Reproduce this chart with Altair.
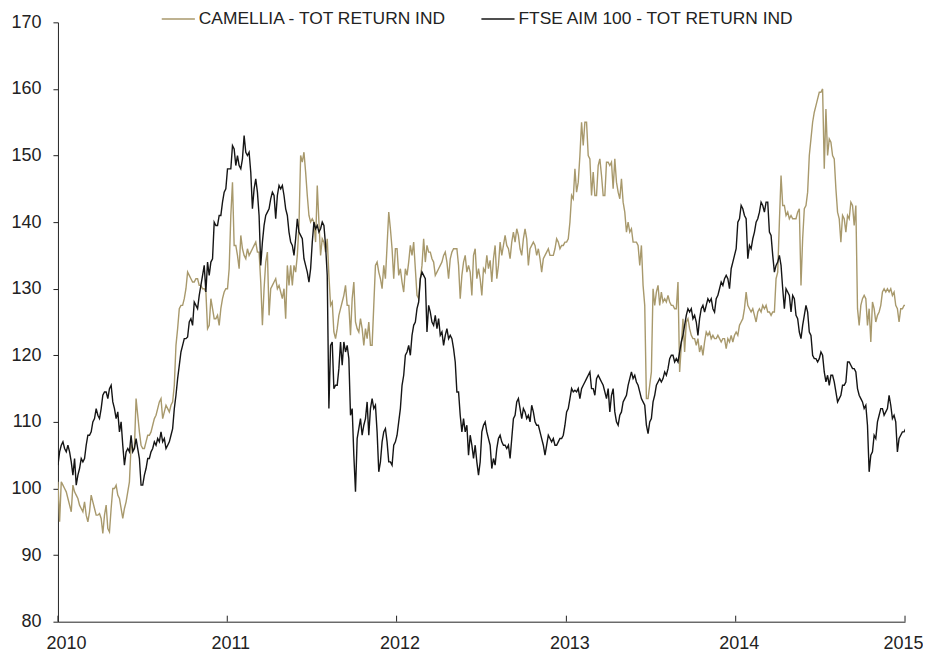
import altair as alt
import pandas as pd

series_names = ["CAMELLIA - TOT RETURN IND", "FTSE AIM 100 - TOT RETURN IND"]
series_colors = ["#A8996C", "#151515"]

# values, one every ~3.6 days from 2010-01-01
camellia = [
    101,95,101,100.5,100,99.5,98.5,97.5,96.5,100.5,99.5,99,98.5,97.5,97,96.5,98,96,95,96.5,99,98,97,96,96,96.25,95.5,93.25,96,97.5,94,93.5,97,100,100,100.5,99,98.5,97,95.5,97,98,99.5,101,106.5,106,106,113.5,111,108.5,106.5,106,106,107,108,108,108.5,109.5,110.5,111,112,113,113.5,110.5,111.5,112.5,112,111.5,112.5,113,115.5,121.5,124,127,127.5,127.5,128.5,130,132.5,132,
    131.5,131,131,131.5,131.5,130.5,130.5,130,130,129.5,124,124.5,128.5,127,125.5,125.5,126,124.5,127,128.5,129.5,130,130,133,141,146,136.5,136.5,135,133,138,136,135,134.5,136,135,135.5,136,136.5,137,135.5,135.5,131,124.5,130,134,135.5,126,130,130.5,131,131.5,130,130.5,129.5,128.5,130,125.5,133.5,130.5,133.5,130.5,133.5,132.5,135,139.5,150,149,150.5,147.5,144,141,140,140.5,140,137,145.5,140,135,137.5,137,135.5,137.5,132,
    127.5,128,123.5,122.5,124,126,127,128,129,130.5,127.5,127.5,123,128.5,131,125,124,123.5,125.5,124,121.5,124,122.5,125,121.5,121.5,127.5,133.5,134,132.5,131.5,130,133.5,131.5,136.5,141.5,139,136,131.5,136,136,132,133,131,129.5,133,132,134,136.5,135,137,133,129,128.5,131.5,133.5,137.5,134,136.5,135.5,135.5,134.5,134,132,132.5,133,133.5,134,135,135.5,134,131.5,134.5,135.5,136,136,136,133.5,128.5,132,134,135,132.5,133.5,
    132.5,129,135,136,131.5,133,131.5,129,133,132.5,135,133,134.25,131,134.5,136.5,131.5,133.5,137,135,136.5,138,136.5,136,134.5,137,138.5,137,139,138,136,135,137.5,139,137.5,133.5,136,136.5,137,136.5,135,136,134.5,132.5,134.5,135,135.5,136,135,135,135,136,137.5,137,136,136.5,136.5,137,137,137.5,140,144,143.5,148,144.5,146,150,155,151.5,155,155,150,149.5,144,147.5,144,144,148.5,149.5,147,144,144,149,149,
    148.5,149,145,149.5,146,144.5,143.5,146.5,143,141.5,138.5,140,138.5,139,137,137,137,136.5,133.5,136.5,130.5,127.5,113.5,113.5,115.5,117.5,130,127.5,129.5,130.5,127.5,129.5,128,128.5,128,129,128,127.5,127.5,127,127,131,117.5,121.5,125.5,120.5,125,125.5,124,123,122.5,122.5,121.5,122.5,120.5,121.5,120,122,123.5,123,123.5,122.5,123,122.5,122.5,123,122.5,122,122.5,122.5,121,122.5,122,123,122,123,123.5,123,124.5,125,125.5,127,129.5,127.5,
    127,126.5,127,126,125,126.5,127,126.5,127.5,127,127.5,126.5,126.5,126,126.5,126.5,131.5,132.5,140,147,142.5,142.5,141,141.5,140.5,141,140.5,140.5,140.5,141.5,142,130.5,137.5,142,142.5,144.5,150,152.5,155,156.5,157.5,158.5,159.5,159.5,160,148,157,150,152.5,152,150,149.5,145,141.5,140.5,137,141,140.5,138.5,141,140.5,143,142.5,139.5,142.5,127,124.5,127.5,128.5,129,128.5,124.5,127,122,128,127,125,126,126.5,127.5,129.5,130,129.5,130,129.5,130,129,129.5,127.5,127,125,127,127,127.5,127.5,
]

ftse = [
    103.5,105.5,106.5,107,106,105.5,106.5,105.5,104,102,104.5,100.5,102,103,104.5,104,104.5,106.5,108,108,108.5,110,110.5,112,111,110.5,112,114,114.5,114.5,113.5,115,115.5,113,112,110.5,111.5,108.5,110,106.5,103.5,105.5,106,105.5,108,105.5,106,107.5,106,104.5,100.5,100.5,102,103,104.5,104.5,105.5,106,107,106.5,107.5,107,108.5,107,107.5,106,106.5,107,108,109,112,114,116.5,118.5,120.5,121.5,122.5,122.5,122.75,125,
    125.5,124.5,128,127.5,127,129,130.5,132,133.5,129.5,134,132,134,134.5,140,139.5,139.5,141,141,143,144.5,145,148,148,148,151.5,151,148.5,150,148.5,148,149.5,153,150.5,150,150.5,147.5,142,145,146.5,144.5,141,133.5,137,139.5,141,141.5,142,143.5,144.5,144,140.5,144,145.5,145,145.5,144,142,141,138.5,137,136.5,135,137.5,140.5,138.5,138,137.5,134.5,133.5,132.5,131,133,137,140,139,139.5,138.5,139,140,139.5,136.5,132,112,
    121.5,122,115,115.5,115.5,118,122,118.5,122,120.5,121.5,119.5,111,112,105,99.5,107.5,109,110.5,108,109.5,110.5,113,108,112,113.5,112,112.5,108.5,102.5,104,107,108.5,109,107,104,104,103.5,106.5,107,108,110,112,115.5,117,120,120.5,121.5,120,123,124.5,125,127,128,131.5,132.5,132,131.5,123.5,127.5,126.5,125,124.5,126,124,125.5,123,123.5,121.5,123,124,122.5,123,122.5,121,119,114.5,114.5,111,108.5,110.5,108.5,109.5,105,
    108,106.5,104.5,106.5,104,102,104,108.5,109.5,110,108.5,107.5,106.5,103,104.5,103.5,106,107.5,108,107,106.5,106.5,106,106.5,104.5,107.5,110.5,111,113,113.5,112,110.5,112,111.5,110.5,111,110,112.5,111.5,110,109.5,109.5,108.5,107.5,106.5,105,106.5,108,107.5,107,107.5,106.5,106.5,107,107.5,107.5,108,109.5,111.5,112,113.5,115,114.5,114.75,114.5,115,113.5,115,115.5,116,116.5,117,117.5,115,115,114,116.5,117,116.5,116,115.5,114.5,113.5,115,
    111.5,114,115,111.5,110,109.5,111,111.5,113,113.5,114,115.5,116.5,117.5,116.5,117,116,115.5,114.5,113.5,113,112.5,109.5,108.25,110,110.5,113,114,115.5,116,116.5,116,116.5,117.5,117,118,119.5,120,120,119,119.5,119,120.5,122,123,124.5,126,127,126.5,127,125.5,126,125,123,125.5,127,127.5,126.5,127.5,128.5,128,128.5,127,126.5,128.5,129,130,131,130.5,131.5,132,131.5,130,133,134,135,136,140,140.5,142.5,142,141,140.5,134.5,
    136.5,136,137.5,138.5,140,140.5,141.5,143,142.5,141.5,143,143,138.5,138,135,132.5,133.5,134,135,133.5,130,127,130,129.5,129,126.5,129,128.5,126,125.5,123.5,122.5,124.5,126,127.5,126.5,123.5,123,120,119.5,119.5,119,119.5,120.5,120,117.5,116,117,115.5,117,117,116,114.5,113,113.5,114,115.5,115.5,116,119,119,118.5,118,118,117.5,115,114,113.5,113,112,112.5,109.5,102.5,105,105.5,108,107.5,110,111,112,112,111,111.5,112,114,112.5,110.5,111,110,105.5,107.5,108,108.5,108.5,109,
]

years = ["2010", "2011", "2012", "2013", "2014", "2015"]
y_ticks = [80, 90, 100, 110, 120, 130, 140, 150, 160, 170]

FONT = "Liberation Sans"

frames = []
for name, vals in zip(series_names, [camellia, ftse]):
    d = pd.date_range("2010-01-01", periods=len(vals), freq="86h")
    frames.append(pd.DataFrame({"date": d, "value": vals, "series": name}))
df = pd.concat(frames, ignore_index=True)
df["order"] = df["series"].map({series_names[0]: 0, series_names[1]: 1})

tick_df = pd.DataFrame({"date": pd.to_datetime([y + "-01-01" for y in years])})

x_scale = alt.Scale(domain=[pd.Timestamp("2010-01-01").isoformat(), pd.Timestamp("2015-01-01").isoformat()], nice=False)
y_scale = alt.Scale(domain=[80, 170], nice=False, zero=False)

lines = alt.Chart(df).mark_line(strokeWidth=1.4, clip=True, interpolate="linear").encode(
    x=alt.X("date:T", scale=x_scale, title=None,
            axis=alt.Axis(format="%Y", values=[y + "-01-01" for y in years], ticks=False,
                          grid=False, labelFontSize=18, labelFont=FONT, labelColor="#222",
                          labelPadding=13, labelFlush=True, labelFlushOffset=15, labelOffset=3,
                          domainColor="#222", domainWidth=1)),
    y=alt.Y("value:Q", scale=y_scale, title=None,
            axis=alt.Axis(values=y_ticks, grid=False, tickSize=5, tickColor="#222",
                          labelFontSize=18, labelFont=FONT, labelColor="#222",
                          labelPadding=12, domainColor="#222", domainWidth=1)),
    color=alt.Color("series:N",
                    scale=alt.Scale(domain=series_names, range=series_colors),
                    legend=alt.Legend(orient="none", legendX=103, legendY=-21,
                                      direction="horizontal", title=None,
                                      symbolType="stroke", symbolSize=1100,
                                      symbolStrokeWidth=1.5, labelFontSize=17.4,
                                      labelFont=FONT, labelColor="#222", labelLimit=0,
                                      columnPadding=30, labelOffset=3, padding=0)),
    order=alt.Order("order:Q"),
    detail="series:N",
)

ticks = alt.Chart(tick_df).mark_rule(color="#222", strokeWidth=1).encode(
    x=alt.X("date:T", scale=x_scale),
    y=alt.value(594),
    y2=alt.value(600),
)

chart = alt.layer(lines, ticks).properties(
    width=848, height=600,
    padding={"top": -7, "left": 2, "right": 0, "bottom": 0},
).configure_view(stroke=None)

chart.save("out.html", embed_options={"renderer": "svg", "actions": False})
